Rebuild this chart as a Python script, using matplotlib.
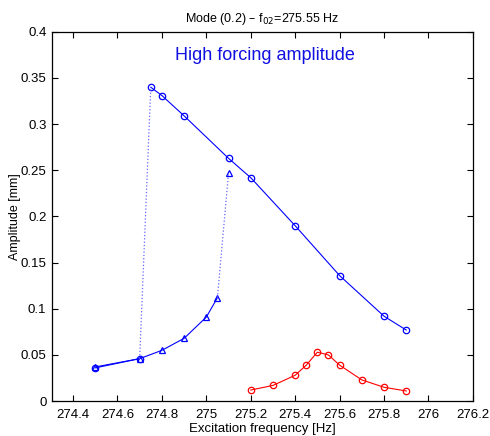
import matplotlib
matplotlib.use('Agg')
import matplotlib.pyplot as plt

plt.rcParams['font.family'] = ['Liberation Sans', 'DejaVu Sans']

# upper branch (circles), sweep down
up_f = [274.75, 274.8, 274.9, 275.1, 275.2, 275.4, 275.6, 275.8, 275.9]
up_a = [0.340, 0.331, 0.309, 0.263, 0.242, 0.190, 0.136, 0.092, 0.077]

# start of circle sweep before the jump
start_f = [274.5, 274.7]
start_a = [0.036, 0.046]

# lower branch (triangles)
low_f = [274.5, 274.7, 274.8, 274.9, 275.0, 275.05]
low_a = [0.037, 0.046, 0.055, 0.068, 0.091, 0.112]
top_tri_f = 275.1
top_tri_a = 0.247

# low forcing amplitude (red)
red_f = [275.2, 275.3, 275.4, 275.45, 275.5, 275.55, 275.6, 275.7, 275.8, 275.9]
red_a = [0.012, 0.017, 0.028, 0.039, 0.053, 0.050, 0.039, 0.023, 0.015, 0.011]

fig = plt.figure(figsize=(4.9, 4.36), dpi=100)
ax = fig.add_axes([0.106, 0.080, 0.859, 0.847])

mk = dict(markersize=4.6, markerfacecolor='none', markeredgewidth=0.9)
blue = '#0000ff'
red = '#ff0000'

ax.plot(up_f, up_a, '-o', color=blue, lw=0.8, **mk)
ax.plot(start_f, start_a, '-o', color=blue, lw=0.8, **mk)
ax.plot(low_f, low_a, '-^', color=blue, lw=0.8, **mk)
ax.plot([top_tri_f], [top_tri_a], '^', color=blue, **mk)

# jumps
ax.plot([start_f[-1], up_f[0]], [start_a[-1], up_a[0]], ':', color='#6666ff', lw=0.9)
ax.plot([low_f[-1], top_tri_f], [low_a[-1], top_tri_a], ':', color='#6666ff', lw=0.9)

ax.plot(red_f, red_a, '-o', color=red, lw=0.8, **mk)

ax.text(275.265, 0.374, 'High forcing amplitude', color='#1010e0', fontsize=13,
        ha='center', va='center')

ax.set_xlim(274.305, 276.2)
ax.set_ylim(0, 0.4)
ax.set_xticks([274.4, 274.6, 274.8, 275, 275.2, 275.4, 275.6, 275.8, 276, 276.2])
ax.set_xticklabels(['274.4', '274.6', '274.8', '275', '275.2', '275.4',
                    '275.6', '275.8', '276', '276.2'])
ax.set_yticks([0, 0.05, 0.1, 0.15, 0.2, 0.25, 0.3, 0.35, 0.4])
ax.set_yticklabels(['0', '0.05', '0.1', '0.15', '0.2', '0.25', '0.3', '0.35', '0.4'])
ax.tick_params(direction='in', top=True, right=True, labelsize=9.5, length=4, width=0.8)
ax.tick_params(axis='x', pad=6)
ax.tick_params(axis='y', pad=4)
for s in ax.spines.values():
    s.set_linewidth(0.9)

ax.set_xlabel('Excitation frequency [Hz]', fontsize=9.5, labelpad=1)
ax.set_ylabel('Amplitude [mm]', fontsize=9, labelpad=0)
ax.set_title('Mode (0.2) – f$_{02}$=275.55 Hz', fontsize=9, pad=7)

fig.savefig('out.png', dpi=100)
